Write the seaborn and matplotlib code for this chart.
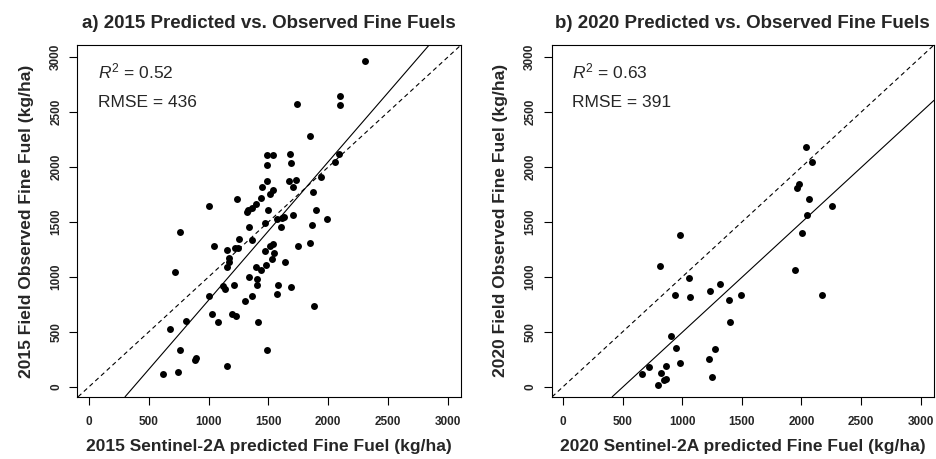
import numpy as np
import pandas as pd
import matplotlib
matplotlib.use("Agg")
import matplotlib.pyplot as plt
import seaborn as sns

# datos (kg/ha)
pred_2015 = [2308, 2098, 2098, 1740, 1849, 1487, 1538, 1681, 2092, 1490, 1694, 2059,
             1941, 1490, 1677, 1734, 1450, 1706, 1543, 1515, 1876, 1440, 1235, 1005,
             1397, 1367, 1327, 1320, 1496, 1902, 1994, 1574, 1618, 1630, 1703, 1473,
             1868, 1341, 1608, 765, 1252, 1367, 1042, 1154, 1221, 1243, 1518, 1538,
             1745, 1851, 1473, 1546, 1168, 1168, 1154, 1532, 1636, 1395, 1440, 1479,
             719, 1341, 1403, 1408, 1120, 1140, 1213, 1585, 1686, 1577, 1003, 1367,
             1302, 1879, 1030, 1193, 1232, 1081, 1414, 809, 675, 765, 1493, 893,
             885, 1154, 742, 619]
obs_2015 = [2969, 2648, 2566, 2575, 2285, 2112, 2112, 2118, 2118, 2015, 2039, 2045,
            1909, 1878, 1875, 1887, 1818, 1815, 1788, 1757, 1773, 1718, 1709, 1648,
            1666, 1630, 1612, 1590, 1612, 1612, 1524, 1524, 1533, 1545, 1560, 1491,
            1475, 1451, 1451, 1412, 1348, 1333, 1285, 1245, 1264, 1264, 1285, 1297,
            1285, 1309, 1233, 1221, 1173, 1136, 1088, 1166, 1133, 1088, 1064, 1112,
            1042, 1000, 982, 930, 918, 894, 930, 927, 909, 845, 824, 827,
            782, 736, 666, 660, 642, 591, 594, 597, 527, 339, 339, 264,
            248, 191, 136, 115]

pred_2020 = [2039, 2090, 1983, 1961, 2067, 2257, 2045, 2008, 981, 1947, 816, 1061,
             1319, 1235, 936, 1064, 1492, 1394, 2174, 1397, 902, 952, 1274, 1229,
             981, 723, 863, 667, 821, 860, 850, 799, 1254]
obs_2020 = [2181, 2049, 1843, 1813, 1713, 1650, 1562, 1396, 1381, 1066, 1103, 991,
            934, 873, 840, 816, 837, 789, 840, 592, 459, 350, 341, 257,
            218, 181, 193, 118, 130, 75, 60, 18, 87]

# lineas de ajuste (pendiente, intercepto)
fit_2015 = (1.259, -471)
fit_2020 = (1.0, -504)

titles = ["a) 2015 Predicted vs. Observed Fine Fuels",
          "b) 2020 Predicted vs. Observed Fine Fuels"]
xlabels = ["2015 Sentinel-2A predicted Fine Fuel (kg/ha)",
           "2020 Sentinel-2A predicted Fine Fuel (kg/ha)"]
ylabels = ["2015 Field Observed Fine Fuel (kg/ha)",
           "2020 Field Observed Fine Fuel (kg/ha)"]
r2_vals = ["0.52", "0.63"]
rmse_vals = ["436", "391"]
ticks = [0, 500, 1000, 1500, 2000, 2500, 3000]

sns.set_style("ticks")
plt.rcParams["font.family"] = ["Liberation Sans", "DejaVu Sans"]
plt.rcParams["mathtext.fontset"] = "custom"
plt.rcParams["mathtext.rm"] = "Liberation Sans"
plt.rcParams["mathtext.it"] = "Liberation Sans:italic"

fig = plt.figure(figsize=(9.37, 4.59), dpi=100)
ax1 = fig.add_axes([0.0827, 0.1355, 0.4093, 0.7665])
ax2 = fig.add_axes([0.5886, 0.1355, 0.4082, 0.7665])

datos = [(pred_2015, obs_2015, fit_2015), (pred_2020, obs_2020, fit_2020)]

for i, ax in enumerate([ax1, ax2]):
    px, py, fit = datos[i]
    df = pd.DataFrame({"pred": px, "obs": py})
    sns.scatterplot(data=df, x="pred", y="obs", color="black", s=25,
                    linewidth=0, ax=ax, zorder=3)
    # linea 1:1 y linea de ajuste
    ax.axline((0, 0), slope=1, color="black", lw=0.8, linestyle=(0, (4, 3)))
    ax.axline((0, fit[1]), slope=fit[0], color="black", lw=0.8)

    ax.set_xlim(-96, 3112)
    ax.set_ylim(-91, 3112)
    ax.set_xticks(ticks)
    ax.set_yticks(ticks)
    ax.set_xticklabels([str(t) for t in ticks], fontweight="bold", fontsize=8.5)
    ax.set_yticklabels([str(t) for t in ticks], fontweight="bold", fontsize=8.5,
                       rotation=90, va="center")
    ax.tick_params(axis="both", length=6, width=0.8, color="black")
    ax.tick_params(axis="x", pad=8)
    ax.tick_params(axis="y", pad=5)
    for sp in ax.spines.values():
        sp.set_visible(True)
        sp.set_color("black")
        sp.set_linewidth(0.8)

    ax.set_xlabel(xlabels[i], fontweight="bold", fontsize=12.5, labelpad=8)
    ax.set_ylabel(ylabels[i], fontweight="bold", fontsize=12.5, labelpad=12)
    ax.set_title(titles[i], fontweight="bold", fontsize=13.5, pad=12)

    ax.text(72, 2869, r"$\mathit{R}^2$" + " = " + r2_vals[i],
            fontsize=12.5, ha="left", va="center")
    ax.text(72, 2585, "RMSE = " + rmse_vals[i], fontsize=12.5,
            ha="left", va="center")

fig.savefig("out.png", dpi=100)
